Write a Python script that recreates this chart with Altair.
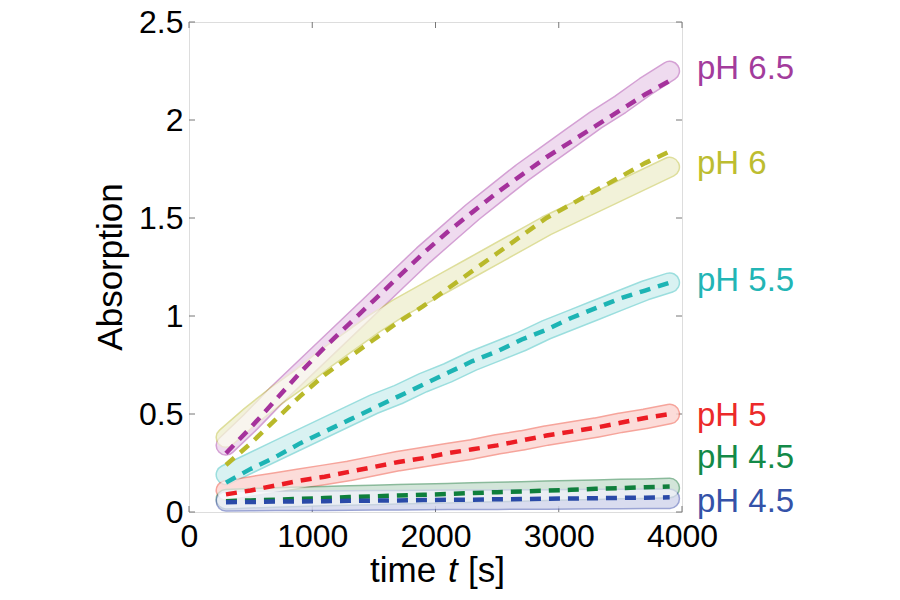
import altair as alt
import pandas as pd

# ---- data ----
times = [300, 500, 700, 900, 1100, 1300, 1500, 1700, 1900, 2100,
         2300, 2500, 2700, 2900, 3100, 3300, 3500, 3700, 3900]

series = ["pH 6.5", "pH 6", "pH 5.5", "pH 5", "pH 4.5 (a)", "pH 4.5 (b)"]

# measured absorption (open circles)
meas_65 = [0.34, 0.46, 0.59, 0.71, 0.83, 0.95, 1.07, 1.19, 1.31, 1.42,
           1.53, 1.63, 1.73, 1.82, 1.91, 2.00, 2.08, 2.17, 2.25]
meas_60 = [0.38, 0.49, 0.59, 0.68, 0.78, 0.87, 0.96, 1.04, 1.11, 1.18,
           1.25, 1.32, 1.39, 1.46, 1.52, 1.58, 1.64, 1.70, 1.76]
meas_55 = [0.19, 0.25, 0.31, 0.37, 0.43, 0.49, 0.55, 0.60, 0.66, 0.71,
           0.77, 0.82, 0.87, 0.93, 0.98, 1.03, 1.08, 1.13, 1.17]
meas_50 = [0.11, 0.13, 0.15, 0.17, 0.19, 0.21, 0.235, 0.26, 0.28, 0.30,
           0.32, 0.345, 0.365, 0.39, 0.41, 0.43, 0.455, 0.475, 0.50]
meas_45a = [0.065, 0.070, 0.074, 0.078, 0.081, 0.084, 0.087, 0.090, 0.093, 0.096,
            0.099, 0.102, 0.105, 0.108, 0.111, 0.114, 0.117, 0.119, 0.122]
meas_45b = [0.055, 0.056, 0.057, 0.058, 0.058, 0.059, 0.060, 0.060, 0.061, 0.062,
            0.062, 0.063, 0.064, 0.064, 0.065, 0.066, 0.066, 0.067, 0.068]

# fitted curves (dashed)
fit_65 = [0.30, 0.43, 0.57, 0.71, 0.84, 0.96, 1.08, 1.20, 1.32, 1.43,
          1.53, 1.63, 1.72, 1.81, 1.89, 1.97, 2.05, 2.13, 2.20]
fit_60 = [0.24, 0.35, 0.47, 0.59, 0.70, 0.79, 0.88, 0.97, 1.05, 1.14,
          1.23, 1.32, 1.41, 1.50, 1.57, 1.64, 1.71, 1.78, 1.84]
fit_55 = [0.15, 0.22, 0.28, 0.35, 0.41, 0.47, 0.53, 0.59, 0.65, 0.71,
          0.77, 0.82, 0.88, 0.93, 0.99, 1.04, 1.09, 1.13, 1.17]
fit_50 = [0.09, 0.11, 0.135, 0.16, 0.18, 0.205, 0.23, 0.255, 0.275, 0.30,
          0.32, 0.34, 0.365, 0.39, 0.41, 0.43, 0.455, 0.48, 0.50]
fit_45a = [0.055, 0.059, 0.063, 0.067, 0.071, 0.076, 0.080, 0.084, 0.088, 0.092,
           0.097, 0.101, 0.105, 0.109, 0.113, 0.118, 0.122, 0.126, 0.130]
fit_45b = [0.050, 0.051, 0.053, 0.054, 0.055, 0.057, 0.058, 0.059, 0.061, 0.062,
           0.063, 0.065, 0.066, 0.068, 0.069, 0.070, 0.072, 0.073, 0.075]

label_text = ["pH 6.5", "pH 6", "pH 5.5", "pH 5", "pH 4.5", "pH 4.5"]
label_y = [2.207, 1.727, 1.126, 0.439, 0.222, 0.0]

x_ticks = [0, 1000, 2000, 3000, 4000]
y_ticks = [0, 0.5, 1, 1.5, 2, 2.5]

band_colors = ["#b860b8", "#c8c858", "#58c8c8", "#f06858", "#3c8c58", "#5868b8"]
fit_colors = ["#a5329c", "#b9b92a", "#1db4b4", "#ec1c24", "#0f7f3c", "#2a4aa8"]
label_colors = ["#a33c9c", "#bdbd30", "#22b5b5", "#ec2a2a", "#138a48", "#3452a8"]

FONT = "Liberation Sans"
W, H = 493, 490

# ---- tables ----
meas_rows, fit_rows = [], []
for s, mv, fv in zip(series,
                     [meas_65, meas_60, meas_55, meas_50, meas_45a, meas_45b],
                     [fit_65, fit_60, fit_55, fit_50, fit_45a, fit_45b]):
    for t, m, f in zip(times, mv, fv):
        meas_rows.append({"series": s, "t": t, "A": m})
        fit_rows.append({"series": s, "t": t, "A": f})
meas_df = pd.DataFrame(meas_rows)
fit_df = pd.DataFrame(fit_rows)
lab_df = pd.DataFrame({"series": series, "text": label_text, "A": label_y,
                       "t": [4000] * len(series)})
xt_df = pd.DataFrame({"v": x_ticks})
yt_df = pd.DataFrame({"v": y_ticks})

xs = alt.Scale(domain=[0, 4000], nice=False)
ys = alt.Scale(domain=[0, 2.5], nice=False)
x_axis = alt.Axis(values=x_ticks, title=None, domain=False, ticks=False, grid=False,
                  labelFontSize=32, labelFont=FONT, labelColor="black", format="d",
                  labelPadding=9, labelFlush=False, labelOverlap=False)
y_axis = alt.Axis(values=y_ticks, title=None, domain=False, ticks=False, grid=False,
                  labelFontSize=32, labelFont=FONT, labelColor="black",
                  labelPadding=6, labelFlush=False, labelOverlap=False,
                  labelExpr="datum.value == 0 ? '0' : format(datum.value, '~g')")

X = alt.X("t:Q", scale=xs, axis=x_axis)
Y = alt.Y("A:Q", scale=ys, axis=y_axis)
band_scale = alt.Scale(domain=series, range=band_colors)
fit_scale = alt.Scale(domain=series, range=fit_colors)
lab_scale = alt.Scale(domain=series, range=label_colors)

band_outer = alt.Chart(meas_df).mark_line(
    strokeWidth=21, strokeCap="round", strokeJoin="round", opacity=0.6
).encode(x=X, y=Y, color=alt.Color("series:N", scale=band_scale, legend=None),
         detail="series:N")

band_inner = alt.Chart(meas_df).mark_line(
    strokeWidth=18, strokeCap="round", strokeJoin="round", opacity=0.62, color="white"
).encode(x=X, y=Y, detail="series:N")

fits = alt.Chart(fit_df).mark_line(
    strokeWidth=4.5, strokeDash=[11, 8]
).encode(x=X, y=Y, color=alt.Color("series:N", scale=fit_scale, legend=None),
         detail="series:N")

labels = alt.Chart(lab_df).mark_text(
    align="left", baseline="alphabetic", dx=15, fontSize=33, font=FONT
).encode(x=X, y=Y, text="text:N",
         color=alt.Color("series:N", scale=lab_scale, legend=None))

# inward ticks on all four sides
tick_col = "#777777"
xb = alt.Chart(xt_df).mark_rule(color=tick_col, strokeWidth=1).encode(
    x=alt.X("v:Q", scale=xs, axis=x_axis), y=alt.value(H), y2=alt.value(H - 6))
xt = alt.Chart(xt_df).mark_rule(color=tick_col, strokeWidth=1).encode(
    x=alt.X("v:Q", scale=xs), y=alt.value(0), y2=alt.value(6))
yl = alt.Chart(yt_df).mark_rule(color=tick_col, strokeWidth=1).encode(
    y=alt.Y("v:Q", scale=ys, axis=y_axis), x=alt.value(0), x2=alt.value(6))
yr = alt.Chart(yt_df).mark_rule(color=tick_col, strokeWidth=1).encode(
    y=alt.Y("v:Q", scale=ys), x=alt.value(W), x2=alt.value(W - 6))

# axis titles as text (italic t)
one = pd.DataFrame({"k": [0]})
t1 = alt.Chart(one).mark_text(text="time", align="left", baseline="alphabetic",
                              fontSize=35, font=FONT, color="black").encode(
    x=alt.value(181), y=alt.value(560))
t2 = alt.Chart(one).mark_text(text="t", align="left", baseline="alphabetic",
                              fontSize=35, font=FONT, fontStyle="italic", color="black").encode(
    x=alt.value(259), y=alt.value(560))
t3 = alt.Chart(one).mark_text(text="[s]", align="left", baseline="alphabetic",
                              fontSize=35, font=FONT, color="black").encode(
    x=alt.value(279), y=alt.value(560))
ytitle = alt.Chart(one).mark_text(text="Absorption", align="center", baseline="alphabetic",
                                  angle=270, fontSize=35, font=FONT, color="black").encode(
    x=alt.value(-67), y=alt.value(H / 2))

chart = alt.layer(
    xb, xt, yl, yr, band_outer, band_inner, fits, labels, t1, t2, t3, ytitle
).resolve_scale(color="independent").properties(
    width=W, height=H,
    autosize=alt.AutoSizeParams(type="none"),
    padding={"left": 181, "top": 14, "right": 210, "bottom": 80},
).configure_view(stroke="#777777", strokeWidth=1.2).configure(background="white")

chart.save("out.html", embed_options={"renderer": "svg", "actions": False})
